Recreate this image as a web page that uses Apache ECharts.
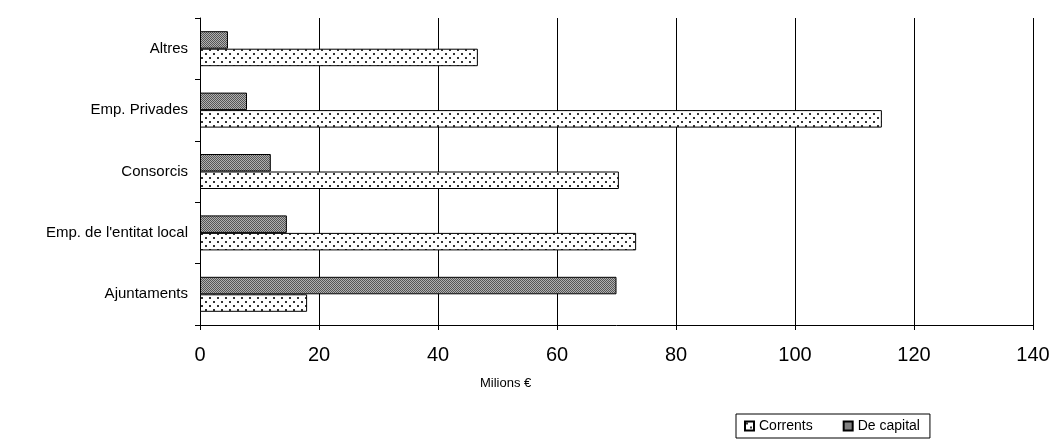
<!DOCTYPE html>
<html><head><meta charset="utf-8">
<script src="https://cdn.jsdelivr.net/npm/echarts@6/dist/echarts.min.js"></script>
<style>html,body{margin:0;padding:0;background:#fff}#c{width:1057px;height:444px}</style>
</head><body><div id="c"></div>
<script>
const categories = ["Ajuntaments", "Emp. de l'entitat local", "Consorcis", "Emp. Privades", "Altres"];
const corrents = [18.0, 73.3, 70.4, 114.6, 46.7];
const capital = [70.0, 14.6, 11.9, 7.9, 4.7];
const xTicks = [0, 20, 40, 60, 80, 100, 120, 140];

function dotPattern() {
  const c = document.createElement('canvas'); c.width = 8; c.height = 8;
  const g = c.getContext('2d');
  g.fillStyle = '#fff'; g.fillRect(0, 0, 8, 8);
  g.fillStyle = '#333';
  g.fillRect(1, 1, 2, 2); g.fillRect(5, 5, 2, 2);
  return c;
}
function checkPattern() {
  const c = document.createElement('canvas'); c.width = 2; c.height = 2;
  const g = c.getContext('2d');
  g.fillStyle = '#b0b0b0'; g.fillRect(0, 0, 2, 2);
  g.fillStyle = '#555'; g.fillRect(0, 0, 1, 1); g.fillRect(1, 1, 1, 1);
  return c;
}
const chart = echarts.init(document.getElementById('c'), null, {renderer: 'canvas'});
const fnt = 'Liberation Sans, Arial, sans-serif';
chart.setOption({
  animation: false,
  grid: {left: 200, right: 24, top: 18, bottom: 119, containLabel: false},
  xAxis: {
    type: 'value', min: xTicks[0], max: xTicks[xTicks.length - 1], interval: 20,
    axisLine: {show: true, lineStyle: {color: '#000', width: 1}},
    axisTick: {show: true, length: 5, lineStyle: {color: '#000'}},
    axisLabel: {color: '#000', fontSize: 20, fontFamily: fnt, margin: 20},
    splitLine: {show: true, lineStyle: {color: '#000', width: 1}}
  },
  yAxis: {
    type: 'category', data: categories,
    axisLine: {show: true, lineStyle: {color: '#000', width: 1}},
    axisTick: {show: true, length: 5, lineStyle: {color: '#000'}},
    axisLabel: {color: '#000', fontSize: 15, fontFamily: fnt, margin: 12}
  },
  legend: {
    left: 736, top: 414, width: 184, itemWidth: 9, itemHeight: 9, itemGap: 30, icon: 'rect',
    borderColor: '#000', borderWidth: 1, padding: [5, 10, 5, 8],
    textStyle: {color: '#000', fontSize: 14, fontFamily: fnt},
    data: ['Corrents', 'De capital']
  },
  graphic: [{type: 'text', left: 480, top: 377, style: {text: 'Milions €', fill: '#000', font: '13px ' + fnt}}],
  series: [
    {name: 'De capital', type: 'bar', data: capital, barWidth: 17.5, barGap: '0%',
     itemStyle: {color: {image: checkPattern(), repeat: 'repeat'}, borderColor: '#000', borderWidth: 1}},
    {name: 'Corrents', type: 'bar', data: corrents, barWidth: 17.5, barGap: '0%',
     itemStyle: {color: {image: dotPattern(), repeat: 'repeat'}, borderColor: '#000', borderWidth: 1}}
  ]
});
</script></body></html>
